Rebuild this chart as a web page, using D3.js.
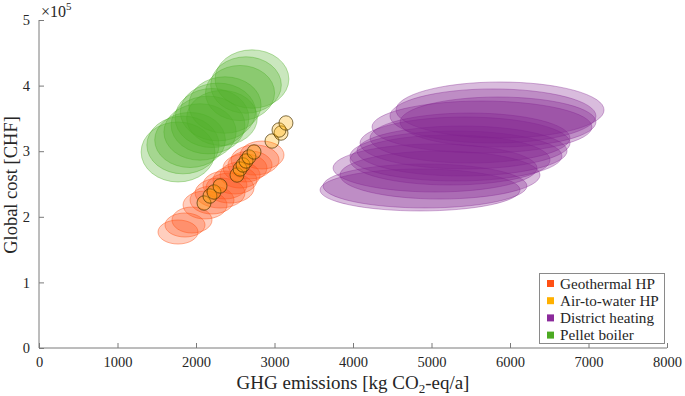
<!DOCTYPE html>
<html><head><meta charset="utf-8">
<script src="https://cdn.jsdelivr.net/npm/d3@7"></script>
<style>body{margin:0;background:#fff}svg text{font-family:"Liberation Serif","Times New Roman",serif;fill:#262626}</style>
</head><body><svg id="c" width="685" height="396"></svg>
<script>
// ---- data ----
const seriesNames = ["Geothermal HP","Air-to-water HP","District heating","Pellet boiler"];
const seriesColors = ["#ff5014","#ffb000","#82218f","#4fae28"];
const xTicks = [0,1000,2000,3000,4000,5000,6000,7000,8000];
const yTicks = [0,1,2,3,4,5];

// Geothermal HP: centres and half-widths (kg CO2-eq/a, CHF)
const geoX  = [1771,1860,1949,2115,2204,2306,2433,2369,2497,2561,2624,2688,2752,2841];
const geoY  = [176800,187500,195100,218000,225600,236300,243900,248500,256100,263700,274400,279000,286600,294200];
const geoRx = [255,255,255,280,280,318,306,280,280,255,280,280,306,280];
const geoRy = [18300,18300,19800,21300,21300,22900,22900,21300,21300,19800,21300,21300,22900,21300];

// Air-to-water HP
const awX  = [2102,2178,2229,2306,2522,2561,2599,2637,2675,2739,2968,3083,3057,3146];
const awY  = [221000,231700,237800,247000,263700,272900,279000,285100,291200,298800,315500,327700,332300,343000];
const awRx = [89,89,89,89,89,89,89,89,89,89,89,89,89,89];
const awRy = [11000,11000,11000,11000,11000,11000,11000,11000,11000,11000,11000,11000,11000,11000];

// District heating
const dhX  = [4854,4917,5045,5108,5236,5312,5389,5427,5490,5643,5847,5783,5873];
const dhY  = [240900,247000,274400,263700,286600,292700,300300,312500,320100,336900,344500,353700,362800];
const dhRx = [1274,1299,1299,1274,1274,1350,1338,1338,1274,1401,1248,1312,1325];
const dhRy = [32000,33500,36600,36600,38100,38100,38100,39600,38100,39600,38100,41200,42700];

// Pellet boiler
const pbX  = [1771,1834,1924,2051,2153,2204,2331,2280,2369,2561,2637,2713];
const pbY  = [298800,309500,317100,329300,339900,350600,350600,359800,370400,388700,400900,410000];
const pbRx = [470,460,450,460,470,470,450,480,460,440,450,470];
const pbRy = [45700,44000,42000,43000,44000,45000,42000,44000,43000,42000,43000,44500];

// ---- chart ----
const svg = d3.select("#c");
const x = d3.scaleLinear().domain([0,8000]).range([39,667]);
const y = d3.scaleLinear().domain([0,500000]).range([348,20]);

function ellipses(X,Y,RX,RY,color,opts){
  const data = X.map((v,i)=>({x:v,y:Y[i],rx:RX[i],ry:RY[i]}));
  svg.append("g").selectAll("ellipse").data(data).join("ellipse")
    .attr("cx",d=>x(d.x)).attr("cy",d=>y(d.y))
    .attr("rx",d=>x(d.rx)-x(0)).attr("ry",d=>y(0)-y(d.ry))
    .attr("fill",color).attr("fill-opacity",opts.fo)
    .attr("stroke",opts.stroke||color).attr("stroke-opacity",opts.so).attr("stroke-width",1);
}
ellipses(geoX,geoY,geoRx,geoRy,seriesColors[0],{fo:0.28,so:0.45});
ellipses(awX,awY,awRx,awRy,seriesColors[1],{fo:0.3,so:0.7,stroke:"#4a3500"});
ellipses(dhX,dhY,dhRx,dhRy,seriesColors[2],{fo:0.3,so:0.35});
ellipses(pbX,pbY,pbRx,pbRy,seriesColors[3],{fo:0.3,so:0.4});

// axes
const axCol = "#7a7a7a";
const gx = svg.append("g").attr("transform","translate(0,348)")
  .call(d3.axisBottom(x).tickValues(xTicks).tickSize(-5).tickPadding(9).tickFormat(d3.format("d")));
const gy = svg.append("g").attr("transform","translate(39,0)")
  .call(d3.axisLeft(y).tickValues(yTicks.map(v=>v*1e5)).tickSize(-5).tickPadding(9).tickFormat(d=>d/1e5));
[gx,gy].forEach(g=>{
  g.attr("font-family",null).attr("font-size",null);
  g.select(".domain").attr("stroke",axCol).attr("d", g===gx ? "M39,0H667" : "M0,348V20");
  g.selectAll(".tick line").attr("stroke",axCol);
  g.selectAll(".tick text").style("font-size","14.5px").attr("fill","#262626");
});
gx.selectAll(".tick text").attr("dy","0.71em");

// exponent
const ex = svg.append("text").attr("x",41).attr("y",17).attr("font-size",16);
ex.append("tspan").text("×10");
ex.append("tspan").attr("dy",-7).attr("font-size",11).text("5");

// axis labels
const xl = svg.append("text").attr("x",353).attr("y",389).attr("text-anchor","middle").attr("font-size",19);
xl.append("tspan").text("GHG emissions [kg CO");
xl.append("tspan").attr("dy",4).attr("font-size",13).text("2");
xl.append("tspan").attr("dy",-4).text("-eq/a]");
svg.append("text").attr("transform","translate(17,185) rotate(-90)").attr("text-anchor","middle").attr("font-size",18.5).text("Global cost [CHF]");

// legend
const lg = svg.append("g");
lg.append("rect").attr("x",539.5).attr("y",273.5).attr("width",125).attr("height",70).attr("fill","#fff").attr("stroke","#8a8a8a");
const legColors = ["#ff5014","#ffb000","#8b2a9b","#4caa22"];
seriesNames.forEach((n,i)=>{
  const yy = 283.5 + i*17.2;
  lg.append("rect").attr("x",547).attr("y",yy-3.5).attr("width",7).attr("height",7).attr("fill",legColors[i]);
  lg.append("text").attr("x",560).attr("y",yy).attr("dy","0.35em").attr("font-size",15.2).text(n);
});
</script></body></html>
